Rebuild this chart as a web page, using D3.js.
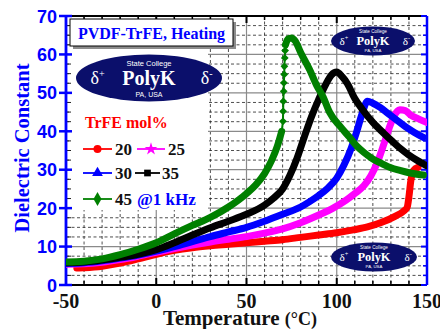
<!DOCTYPE html>
<html>
<head>
<meta charset="utf-8">
<script src="https://cdn.jsdelivr.net/npm/d3@7"></script>
<style>
  html, body { margin: 0; padding: 0; background: #fff; }
  svg { display: block; }
</style>
</head>
<body>
<svg id="chart" width="440" height="329"></svg>
<script>
// Axis ticks
const xTicks = [-50, 0, 50, 100, 150];
const yTicks = [0, 10, 20, 30, 40, 50, 60, 70];

// Dielectric constant vs temperature (°C), 1 kHz, heating run
const trfe20 = [[-44,4.4],[-40,4.5],[-30,4.9],[-20,5.7],[-10,6.8],[0,8.0],[10,9.0],[20,9.7],[30,10.2],[40,10.6],[50,11.0],[60,11.4],[70,11.8],[80,12.4],[90,13.0],[100,13.6],[110,14.4],[117,15.1],[125,16.3],[132,17.8],[137,19.2],[139,20.2],[140,23],[141,27],[142.5,29.8],[145,30.6]];
const trfe25 = [[-50,5.4],[-40,5.5],[-30,5.9],[-20,6.6],[-10,7.5],[0,8.5],[10,9.5],[20,10.4],[30,11.2],[40,11.9],[50,12.6],[60,13.5],[70,14.6],[80,16.2],[90,18.2],[98,20],[105,22],[110,23.8],[115,25.8],[119,28.5],[123,32.5],[126,36.5],[129,40.8],[132,44.2],[135,45.6],[138,45.4],[141,44.2],[145,43.3],[150,42.3]];
const trfe30 = [[-50,5.6],[-40,5.8],[-30,6.3],[-20,7],[-10,7.8],[0,8.8],[10,10],[20,11.3],[30,12.6],[40,13.8],[50,15],[60,16.6],[70,18.4],[80,20.3],[85,21.7],[90,23.3],[95,25.2],[100,27.8],[104,31.2],[108,35.6],[111,39.8],[114,44.5],[117,47.8],[120,47.3],[124,46.2],[128,44.8],[133,43],[138,41.2],[143,39.7],[148,38.4]];
const trfe35 = [[-50,5.8],[-40,6],[-30,6.5],[-20,7.2],[-10,8],[0,9.2],[10,11],[20,13],[30,14.9],[40,16.6],[50,18.4],[60,20.8],[65,22.6],[70,25],[74,28.5],[78,33],[82,38.5],[86,43.8],[90,48.3],[94,52.3],[97,54.6],[100,55.4],[103,54.2],[106,52.3],[110,48.5],[114,45.8],[120,42.3],[126,39.5],[131,37.3],[135,35.6],[140,33.8],[145,32.3],[150,31]];
const trfe45 = [[-50,6.0],[-40,6.2],[-30,6.8],[-20,7.9],[-10,9.3],[0,11],[10,13.3],[20,15.5],[30,17.6],[40,20.3],[50,23.8],[55,26],[60,29],[64,32.5],[67,36],[69.5,40]];
const trfe45Jump = [[70.2,42.6],[70.3,45.2],[70.4,47.8],[70.6,50.4],[70.7,52.6],[70.9,54.8],[71,56.9],[71.2,59.1],[71.4,61]];
const trfe45Relax = [[71.6,62.5],[73,64],[75,64.3],[77,63.5],[80,60.5],[85,56],[89,51.8],[92.4,49],[96,45],[102,41.2],[107,38.5],[111,36.2],[115,34.5],[120,32.8],[125,31.6],[130,30.5],[135,29.8],[140,29.2],[148,28.6]];

const svg = d3.select("#chart");
const W = 440, H = 329;
const x = d3.scaleLinear().domain([-50, 150]).range([66, 427]);
const y = d3.scaleLinear().domain([0, 70]).range([285, 16]);

const BLUE = "#0000ff";
const serif = "'Liberation Serif', 'Times New Roman', serif";
const sans = "'Liberation Sans', Arial, sans-serif";

svg.append("rect").attr("width", W).attr("height", H).attr("fill", "#fff");

svg.append("defs").append("clipPath").attr("id", "plot")
  .append("rect").attr("x", 66).attr("y", 16).attr("width", 361).attr("height", 269);

// ---- grid ----
const grid = svg.append("g");
const xMinor = d3.range(-40, 150, 10).filter(v => v % 50 !== 0);
const yMinor = d3.range(2.5, 70, 2.5).filter(v => v % 10 !== 0);
grid.selectAll(".vx").data(xMinor).join("line")
  .attr("x1", d => x(d)).attr("x2", d => x(d)).attr("y1", 16).attr("y2", 285)
  .attr("stroke", "#222").attr("stroke-width", 0.8).attr("stroke-dasharray", "3,2.5");
grid.selectAll(".hy").data(yMinor).join("line")
  .attr("y1", d => y(d)).attr("y2", d => y(d)).attr("x1", 66).attr("x2", 427)
  .attr("stroke", "#222").attr("stroke-width", 0.8).attr("stroke-dasharray", "3,2.5");
grid.selectAll(".vM").data([0, 50, 100]).join("line")
  .attr("x1", d => x(d)).attr("x2", d => x(d)).attr("y1", 16).attr("y2", 285)
  .attr("stroke", "#8a8a8a").attr("stroke-width", 1.2);
grid.selectAll(".hM").data(d3.range(10, 70, 10)).join("line")
  .attr("y1", d => y(d)).attr("y2", d => y(d)).attr("x1", 66).attr("x2", 427)
  .attr("stroke", "#8a8a8a").attr("stroke-width", 1.2);

// white panel behind the title and legend
svg.append("rect").attr("x", 69).attr("y", 18).attr("width", 139).attr("height", 192).attr("fill", "#fff");

// ---- axes ----
const axes = svg.append("g");
// bottom & top (black)
axes.append("line").attr("x1", 66).attr("x2", 427).attr("y1", 285).attr("y2", 285).attr("stroke", "#000").attr("stroke-width", 2.2);
axes.append("line").attr("x1", 66).attr("x2", 427).attr("y1", 16).attr("y2", 16).attr("stroke", "#000").attr("stroke-width", 2);
axes.selectAll(".bt").data(xTicks).join("line")
  .attr("x1", d => x(d)).attr("x2", d => x(d)).attr("y1", 285).attr("y2", 278).attr("stroke", "#000").attr("stroke-width", 2);
axes.selectAll(".bm").data(xMinor).join("line")
  .attr("x1", d => x(d)).attr("x2", d => x(d)).attr("y1", 285).attr("y2", 281).attr("stroke", "#000").attr("stroke-width", 1.5);
axes.selectAll(".tt").data(xTicks).join("line")
  .attr("x1", d => x(d)).attr("x2", d => x(d)).attr("y1", 16).attr("y2", 23).attr("stroke", "#000").attr("stroke-width", 2);
axes.selectAll(".tm").data(xMinor).join("line")
  .attr("x1", d => x(d)).attr("x2", d => x(d)).attr("y1", 16).attr("y2", 20).attr("stroke", "#000").attr("stroke-width", 1.5);
// left & right (blue)
axes.selectAll(".lm").data(yMinor).join("line")
  .attr("y1", d => y(d)).attr("y2", d => y(d)).attr("x1", 66).attr("x2", 71).attr("stroke", "#222").attr("stroke-width", 1);
axes.selectAll(".rm").data(yMinor).join("line")
  .attr("y1", d => y(d)).attr("y2", d => y(d)).attr("x1", 427).attr("x2", 423).attr("stroke", BLUE).attr("stroke-width", 1.5);
axes.selectAll(".rt").data(yTicks).join("line")
  .attr("y1", d => y(d)).attr("y2", d => y(d)).attr("x1", 427).attr("x2", 421).attr("stroke", BLUE).attr("stroke-width", 2);
axes.append("line").attr("x1", 427).attr("x2", 427).attr("y1", 16).attr("y2", 285).attr("stroke", BLUE).attr("stroke-width", 2.5);
axes.append("line").attr("x1", 66).attr("x2", 66).attr("y1", 16).attr("y2", 285).attr("stroke", BLUE).attr("stroke-width", 2.8);
axes.selectAll(".lt").data(yTicks).join("line")
  .attr("y1", d => y(d)).attr("y2", d => y(d)).attr("x1", 59).attr("x2", 72).attr("stroke", BLUE).attr("stroke-width", 2.5);

axes.selectAll(".yl").data(yTicks).join("text")
  .attr("x", 57).attr("y", d => y(d) + 6.5).attr("text-anchor", "end")
  .attr("font-family", sans).attr("font-weight", "bold").attr("font-size", 18).attr("fill", BLUE)
  .text(d => d);
axes.selectAll(".xl").data(xTicks).join("text")
  .attr("x", d => x(d)).attr("y", 308).attr("text-anchor", "middle")
  .attr("font-family", serif).attr("font-weight", "bold").attr("font-size", 20).attr("fill", "#111")
  .text(d => d);

const xt = svg.append("text").attr("x", 240).attr("y", 325).attr("text-anchor", "middle")
  .attr("font-family", serif).attr("font-weight", "bold").attr("font-size", 21).attr("fill", "#111");
xt.append("tspan").text("Temperature ");
xt.append("tspan").attr("font-size", 18).text("(°C)");

svg.append("text").attr("transform", "translate(29,148) rotate(-90)").attr("text-anchor", "middle")
  .attr("font-family", serif).attr("font-weight", "bold").attr("font-size", 20.5).attr("fill", BLUE)
  .text("Dielectric Constant");

// ---- PolyK logos ----
function logo(cx, cy, rx, ry, s) {
  const g = svg.append("g");
  g.append("ellipse").attr("cx", cx).attr("cy", cy).attr("rx", rx).attr("ry", ry).attr("fill", "#0b0f6b");
  g.append("text").attr("x", cx).attr("y", cy - 12.5 * s).attr("text-anchor", "middle")
    .attr("font-family", sans).attr("font-size", 7.5 * s).attr("fill", "#fff").text("State College");
  g.append("text").attr("x", cx).attr("y", cy + 6.5 * s).attr("text-anchor", "middle")
    .attr("font-family", serif).attr("font-weight", "bold").attr("font-size", 20 * s).attr("fill", "#fff").text("PolyK");
  g.append("text").attr("x", cx).attr("y", cy + 18.5 * s).attr("text-anchor", "middle")
    .attr("font-family", sans).attr("font-size", 7 * s).attr("fill", "#fff").text("PA, USA");
  const dp = g.append("text").attr("x", cx - rx * 0.8).attr("y", cy + 6 * s)
    .attr("font-family", serif).attr("font-size", 18 * s).attr("fill", "#fff");
  dp.append("tspan").text("δ");
  dp.append("tspan").attr("dy", -7 * s).attr("font-size", 10 * s).text("+");
  const dm = g.append("text").attr("x", cx + rx * 0.71).attr("y", cy + 6 * s)
    .attr("font-family", serif).attr("font-size", 18 * s).attr("fill", "#fff");
  dm.append("tspan").text("δ");
  dm.append("tspan").attr("dy", -7 * s).attr("font-size", 10 * s).text("-");
}
logo(149, 78, 73, 23.5, 1);
logo(373, 41, 42, 14.5, 0.62);
logo(374, 257, 43, 14.5, 0.62);

// ---- title box ----
svg.append("rect").attr("x", 73).attr("y", 22).attr("width", 163).attr("height", 27).attr("fill", "#8c8c8c");
svg.append("rect").attr("x", 70).attr("y", 19).attr("width", 163).attr("height", 27).attr("fill", "#fff")
  .attr("stroke", "#000").attr("stroke-width", 1);
svg.append("text").attr("x", 151.5).attr("y", 38.5).attr("text-anchor", "middle")
  .attr("font-family", serif).attr("font-weight", "bold").attr("font-size", 16).attr("fill", BLUE)
  .text("PVDF-TrFE, Heating");

// ---- curves ----
const line = d3.line().x(d => x(d[0])).y(d => y(d[1])).curve(d3.curveMonotoneX);
const curves = svg.append("g").attr("clip-path", "url(#plot)");
const series = [
  { data: trfe20, color: "#ff0000" },
  { data: trfe25, color: "#ff00ff" },
  { data: trfe30, color: "#0000ff" },
  { data: trfe35, color: "#000000" },
  { data: trfe45, color: "#008000" },
  { data: trfe45Relax, color: "#008000" }
];
series.forEach(s => {
  curves.append("path").attr("d", line(s.data)).attr("fill", "none")
    .attr("stroke", s.color).attr("stroke-width", 7).attr("stroke-linejoin", "round").attr("stroke-linecap", "round");
});
// steep jump of the 45 mol% film: discrete points joined by a thin line
const jump = [trfe45[trfe45.length - 1]].concat(trfe45Jump, [trfe45Relax[0]]);
curves.append("path").attr("d", d3.line().x(d => x(d[0])).y(d => y(d[1]))(jump))
  .attr("fill", "none").attr("stroke", "#008000").attr("stroke-width", 2);
curves.selectAll(".dm").data(trfe45Jump).join("path")
  .attr("d", d3.symbol(d3.symbolSquare, 30)())
  .attr("transform", d => `translate(${x(d[0])},${y(d[1])}) rotate(45)`)
  .attr("fill", "#008000");

// ---- legend ----
const leg = svg.append("g");
leg.append("text").attr("x", 85).attr("y", 128).attr("font-family", serif).attr("font-weight", "bold")
  .attr("font-size", 16).attr("fill", "#ff0000").text("TrFE mol%");
const legendItems = [
  { label: "20", color: "#ff0000", sym: d3.symbolCircle, size: 50, x0: 83, x1: 112, tx: 115, row: 149 },
  { label: "25", color: "#ff00ff", sym: d3.symbolStar, size: 50, x0: 137, x1: 165, tx: 168, row: 149 },
  { label: "30", color: "#0000ff", sym: d3.symbolTriangle, size: 50, x0: 83, x1: 112, tx: 115, row: 173 },
  { label: "35", color: "#000000", sym: d3.symbolSquare, size: 45, x0: 135, x1: 160, tx: 162, row: 173 },
  { label: "45", color: "#008000", sym: d3.symbolDiamond, size: 55, x0: 83, x1: 112, tx: 115, row: 199 }
];
legendItems.forEach(it => {
  leg.append("line").attr("x1", it.x0).attr("x2", it.x1).attr("y1", it.row).attr("y2", it.row)
    .attr("stroke", it.color).attr("stroke-width", 1.8);
  leg.append("path").attr("d", d3.symbol(it.sym, it.size)())
    .attr("transform", `translate(${(it.x0 + it.x1) / 2},${it.row})`).attr("fill", it.color);
  leg.append("text").attr("x", it.tx).attr("y", it.row + 6).attr("font-family", serif).attr("font-weight", "bold")
    .attr("font-size", 17).attr("fill", "#111").text(it.label);
});
leg.append("text").attr("x", 137).attr("y", 205).attr("font-family", serif).attr("font-weight", "bold")
  .attr("font-size", 17).attr("fill", BLUE).text("@1 kHz");
</script>
</body>
</html>
